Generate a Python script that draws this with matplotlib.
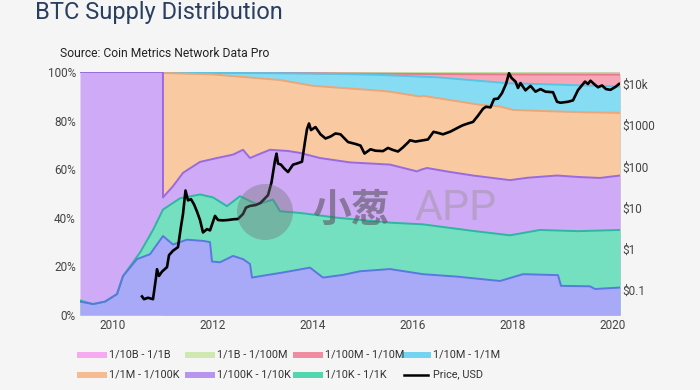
import matplotlib
matplotlib.use("Agg")
import matplotlib.pyplot as plt
from matplotlib.lines import Line2D
from matplotlib.patches import Ellipse
from matplotlib.ticker import FixedLocator, FixedFormatter

plt.rcParams['font.family'] = ['Roboto', 'Noto Sans CJK SC', 'DejaVu Sans']

# ---------------- data ----------------
# cumulative share of supply (%) at the top of each band, bottom band first
blue_years = [2009.34, 2009.6, 2009.84, 2010.08, 2010.2, 2010.48, 2010.74, 2011.0, 2011.2,
              2011.48, 2011.8, 2011.94, 2011.98, 2012.14, 2012.4, 2012.6, 2012.74, 2012.78,
              2013.1, 2013.4, 2013.94, 2014.2, 2014.6, 2014.94, 2015.54, 2016.2, 2016.88,
              2017.74, 2018.2, 2018.9, 2018.96, 2019.54, 2019.64, 2020.14]
blue_top = [5.5, 4.5, 5.5, 8.6, 16, 23, 25, 32.5, 29,
            31, 30.5, 30, 22, 21.7, 24.3, 23, 21, 15.4,
            16.5, 17.5, 19.5, 15.4, 16.5, 18, 18.9, 16.8, 15.8,
            14, 16.8, 16.4, 12, 11.8, 10.7, 11.3]

green_years = [2009.34, 2009.6, 2009.84, 2010.08, 2010.2, 2010.54, 2010.8, 2011.0, 2011.34,
               2011.74, 2012.0, 2012.28, 2012.54, 2012.88, 2013.2, 2013.34, 2013.74, 2014.5,
               2015.54, 2016.2, 2017.2, 2017.94, 2018.54, 2019.3, 2020.14]
green_top = [6, 4.5, 5.5, 8.6, 16, 25.7, 35, 43.4, 48,
             49.6, 48.4, 44.8, 48.9, 45.5, 47.5, 42.7, 42, 40,
             38, 37.3, 34.6, 32.8, 35, 34.5, 35]

purple_years = [2009.34, 2010.999, 2011.0, 2011.2, 2011.4, 2011.74, 2012.08, 2012.4, 2012.6,
                2012.74, 2012.9, 2013.14, 2013.5, 2013.74, 2014.14, 2014.74, 2015.54, 2016.08,
                2016.16, 2016.28, 2016.7, 2017.2, 2017.94, 2018.3, 2018.88, 2019.3, 2019.74, 2020.14]
purple_top = [100, 100, 48.4, 53, 58.5, 63, 64.6, 66, 68,
              64.6, 66, 68, 67.5, 66.7, 64.6, 62.8, 61.9, 59.1,
              59.8, 60.5, 59, 57.4, 55.5, 56.5, 57.4, 56.8, 56.4, 57.4]

orange_years = [2011.0, 2011.5, 2012.0, 2012.34, 2013.34, 2014.0, 2014.68, 2015.34, 2015.54,
                2016.14, 2016.2, 2017.34, 2017.74, 2018.0, 2018.8, 2019.5, 2020.14]
orange_top = [99.6, 99.3, 99.0, 98.4, 96.7, 94.3, 93.3, 92.3, 91.9,
              89.9, 90.2, 86.5, 85.8, 84.4, 83.8, 83.4, 83.2]

cyan_years = [2011.0, 2012.0, 2013.34, 2014.5, 2015.34, 2016.5, 2017.54, 2017.88, 2018.9, 2020.14]
cyan_top = [99.7, 99.6, 99.5, 99.2, 98.8, 97.8, 96.0, 95.4, 94.8, 94.0]

red_years = [2011.0, 2013.0, 2014.5, 2016.0, 2018.0, 2020.14]
red_top = [99.8, 99.7, 99.4, 99.2, 99.0, 98.9]

micro_years = [2011.0, 2014.0, 2020.14]
micro_top = [99.9, 99.7, 99.5]

nano_years = [2011.0, 2020.14]
nano_top = [100, 100]

price_years = [2010.58, 2010.62, 2010.7, 2010.8, 2010.86, 2010.88, 2010.92, 2010.98, 2011.08,
               2011.12, 2011.2, 2011.3, 2011.36, 2011.4, 2011.45, 2011.5, 2011.56, 2011.62,
               2011.68, 2011.74, 2011.8, 2011.88, 2011.94, 2012.04, 2012.1, 2012.2, 2012.3,
               2012.4, 2012.5, 2012.6, 2012.66, 2012.74, 2012.85, 2012.95, 2013.1, 2013.17,
               2013.24, 2013.27, 2013.3, 2013.36, 2013.42, 2013.5, 2013.6, 2013.7, 2013.78,
               2013.84, 2013.88, 2013.92, 2013.96, 2014.05, 2014.15, 2014.25, 2014.35, 2014.45,
               2014.55, 2014.7, 2014.85, 2014.95, 2015.03, 2015.15, 2015.25, 2015.4, 2015.5,
               2015.6, 2015.7, 2015.8, 2015.9, 2015.94, 2016.05, 2016.15, 2016.3, 2016.41,
               2016.5, 2016.6, 2016.75, 2016.93, 2017.0, 2017.1, 2017.2, 2017.3, 2017.4,
               2017.46, 2017.55, 2017.62, 2017.7, 2017.78, 2017.86, 2017.92, 2017.97, 2018.05,
               2018.1, 2018.15, 2018.25, 2018.35, 2018.45, 2018.55, 2018.65, 2018.8, 2018.88,
               2018.95, 2019.1, 2019.2, 2019.3, 2019.44, 2019.5, 2019.55, 2019.62, 2019.7,
               2019.78, 2019.86, 2019.95, 2020.05, 2020.12]
price_usd = [0.07, 0.06, 0.065, 0.06, 0.2, 0.32, 0.22, 0.28, 0.36,
             0.7, 0.9, 1.1, 3.5, 7, 26, 15, 16, 12,
             8, 5, 2.5, 3, 2.8, 6.3, 5, 4.9, 5,
             5.2, 5.3, 7, 10, 11, 11.5, 13, 20, 41,
             140, 204, 117, 110, 90, 73, 110, 120, 130,
             400, 800, 1100, 760, 900, 600, 475, 530, 630,
             600, 390, 350, 320, 205, 260, 240, 235, 280,
             250, 230, 290, 380, 430, 400, 420, 450, 690,
             650, 600, 700, 910, 1000, 1100, 1200, 1700, 2500,
             2800, 2700, 4300, 4400, 6000, 10000, 18200, 14000, 11400,
             8000, 10500, 7000, 9000, 6500, 7500, 6500, 6300, 3700,
             3500, 3700, 4000, 7100, 11400, 10000, 12000, 10000, 8300,
             9200, 7500, 7200, 8500, 10000]

x_ticks = [2010, 2012, 2014, 2016, 2018, 2020]
pct_ticks = [0, 20, 40, 60, 80, 100]
price_ticks = [0.1, 1, 10, 100, 1000, 10000]
price_tick_labels = ['$0.1', '$1', '$10', '$100', '$1000', '$10k']

# ---------------- styling ----------------
W, H = 700, 390
fig = plt.figure(figsize=(7, 3.9), dpi=100, facecolor='#f5f5f5')
ax = fig.add_axes([80 / W, 1 - 315 / H, 540 / W, 243 / H])
ax.set_facecolor('#f5f5f5')

bands = [
    # (years, tops, fill, line)
    (nano_years, nano_top, '#f8c0f0', '#f0a0e8'),
    (micro_years, micro_top, '#d8ecc0', '#c0e0a0'),
    (red_years, red_top, '#f6a6b6', '#e8788f'),
    (cyan_years, cyan_top, '#86dcf2', '#55c6e6'),
    (orange_years, orange_top, '#f9c9a2', '#eaa77a'),
    (purple_years, purple_top, '#cfaaf6', '#9a6ade'),
    (green_years, green_top, '#74e0c0', '#2cb8a0'),
    (blue_years, blue_top, '#a9aaf7', '#5a78e0'),
]
for yrs, tops, fc, lc in bands:
    ax.fill_between(yrs, 0, tops, color=fc, linewidth=0, zorder=1)
for yrs, tops, fc, lc in bands:
    ax.plot(yrs, tops, color=lc, linewidth=1.4, zorder=2)

ax.set_xlim(2009.34, 2020.14)
ax.set_ylim(0, 100)
ax.xaxis.set_major_locator(FixedLocator(x_ticks))
ax.set_xticklabels([str(t) for t in x_ticks])
ax.yaxis.set_major_locator(FixedLocator(pct_ticks))
ax.set_yticklabels([f'{t}%' for t in pct_ticks])
ax.tick_params(length=0, labelsize=8.5, labelcolor='#444444', pad=3)
for s in ax.spines.values():
    s.set_visible(False)

ax2 = ax.twinx()
ax2.set_yscale('log')
ax2.plot(price_years, price_usd, color='black', linewidth=1.9, zorder=3)
ax2.set_ylim(0.0248, 19500)
ax2.yaxis.set_major_locator(FixedLocator(price_ticks))
ax2.yaxis.set_major_formatter(FixedFormatter(price_tick_labels))
ax2.yaxis.set_minor_locator(FixedLocator([]))
ax2.tick_params(length=0, labelsize=8.5, labelcolor='#444444', pad=2)
for s in ax2.spines.values():
    s.set_visible(False)

# titles
fig.text(35 / W, 1 - 19.5 / H, 'BTC Supply Distribution', fontsize=17, color='#2a3f5f',
         va='baseline', ha='left')
fig.text(60 / W, 1 - 57.3 / H, 'Source: Coin Metrics Network Data Pro', fontsize=8.7,
         color='#222222', va='baseline', ha='left')

# legend (drawn manually to reproduce fixed-width entries)
legend_entries = [
    ('1/10B - 1/1B', '#f7aaf0', 0, 0), ('1/1B - 1/100M', '#cfe8b0', 1, 0),
    ('1/100M - 1/10M', '#f08c9f', 2, 0), ('1/10M - 1/1M', '#72d4f0', 3, 0),
    ('1/1M - 1/100K', '#f6bb90', 0, 1), ('1/100K - 1/10K', '#b795ef', 1, 1),
    ('1/10K - 1/1K', '#52d6ad', 2, 1), ('Price, USD', 'black', 3, 1),
    ('1/1K+', '#9ea2f2', 0, 2),
]
col_x = [80, 188, 296, 404]
row_y = [355, 374.5, 396]
for label, col, ci, ri in legend_entries:
    x0 = col_x[ci]
    y0 = row_y[ri]
    lw = 1.8 if label.startswith('Price') else 4.3
    fig.add_artist(Line2D([x0 / W, (x0 + 24) / W], [1 - y0 / H, 1 - y0 / H],
                          color=col, linewidth=lw, transform=fig.transFigure))
    fig.text((x0 + 29) / W, 1 - y0 / H, label, fontsize=7.8, color='#333333',
             va='center', ha='left')

# watermark
fig.add_artist(Ellipse((265 / W, 1 - 212 / H), 56 / W, 56 / H, transform=fig.transFigure,
                       facecolor='#6e7676', alpha=0.4, edgecolor='none'))
fig.text(312 / W, 1 - 211 / H, '小葱', fontsize=28, fontweight='bold', color='#5a5560',
         alpha=0.6, va='center', ha='left')
fig.text(414 / W, 1 - 209 / H, 'APP', fontsize=31, color='#9a9098', alpha=0.45,
         va='center', ha='left')

fig.savefig('out.png', dpi=100, facecolor=fig.get_facecolor())
